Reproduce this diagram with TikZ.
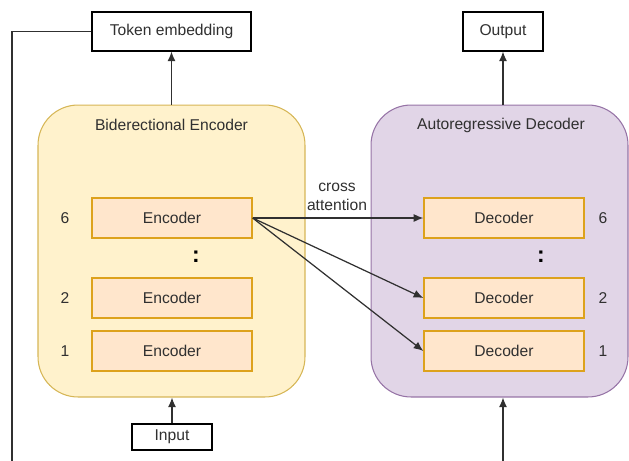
\documentclass[tikz,border=0pt]{standalone}
\usepackage{fontspec}
\setmainfont{Liberation Sans}
\usetikzlibrary{arrows.meta}

\definecolor{encback}{HTML}{FFF2CC}
\definecolor{encedge}{HTML}{D6B656}
\definecolor{decback}{HTML}{E1D5E7}
\definecolor{decedge}{HTML}{9673A6}
\definecolor{layerback}{HTML}{FFE6CC}
\definecolor{layeredge}{HTML}{DDA21C}
\definecolor{ink}{HTML}{303030}

\tikzset{
  stack/.style={draw, rounded corners=0.8cm, minimum width=#1, minimum height=5.84cm, line width=0.6pt},
  layer/.style={draw=layeredge, fill=layerback, minimum width=3.2cm, minimum height=0.8cm, line width=0.8pt},
  plain/.style={draw=black, fill=white, minimum height=0.78cm, line width=0.6pt},
  wire/.style={draw=ink, line width=0.7pt},
  gap/.style={font=\bfseries\fontsize{13}{13}\selectfont, text=black}
}

\begin{document}
\begin{tikzpicture}[>={Latex[length=5.5pt,width=4.6pt]}, x=0.02cm, y=-0.02cm,
  font=\fontsize{8.9}{10.8}\selectfont, text=ink]
\useasboundingbox (0,0) rectangle (629,460);

% the two stacks
\node[stack=5.34cm, draw=encedge, fill=encback] (enc) at (171.5,251) {};
\node[stack=5.14cm, draw=decedge, fill=decback] (dec) at (499.5,251) {};
\node at (171.5,125) {Biderectional Encoder};
\node at (501,125) {Autoregressive Decoder};

% layers, numbered from the bottom
\foreach \n/\y in {6/218,2/298,1/351}
{
    \node[layer] (enc\n) at (172,\y) {Encoder};
    \node at (65,\y) {\n};
    \node[layer] (dec\n) at (504,\y) {Decoder};
    \node at (603,\y) {\n};
}
\node[gap] at (196,257) {:};
\node[gap] at (541,257) {:};

% outside boxes
\node[plain, minimum width=3.18cm] (tok) at (171.5,31.5) {Token embedding};
\node[plain, minimum width=1.6cm] (out) at (503,31.5) {Output};
\node[plain, minimum width=1.6cm, minimum height=0.52cm] (in) at (172,437) {Input};
\coordinate (decin) at (503,462);
\coordinate (feed) at (12,462);

\draw[wire,->] (in) -- (enc.south -| in);
\draw[wire,->] (enc.north -| tok) -- (tok);
\draw[wire,->] (decin) -- (dec.south -| decin);
\draw[wire,->] (dec.north -| out) -- (out);
\draw[wire] (tok.west) -| (feed);

% cross attention
\node[align=center] (xatt) at (337,197) {cross\\attention};
\draw[wire,->] (enc6.east) -- (dec6.west);
\draw[wire,->] (enc6.east) -- (dec2.west);
\draw[wire,->] (enc6.east) -- (dec1.west);
\end{tikzpicture}
\end{document}
